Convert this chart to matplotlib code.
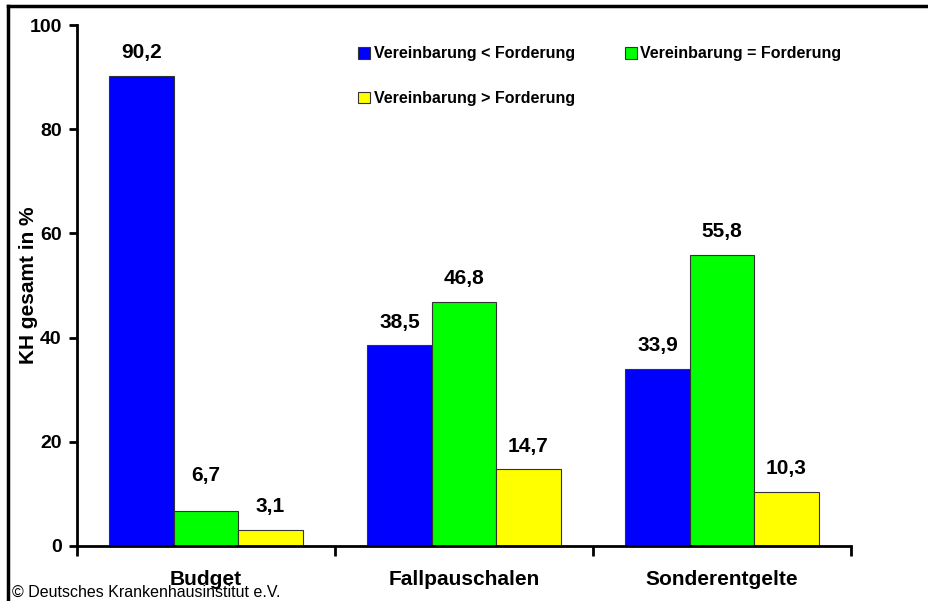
import matplotlib
matplotlib.use("Agg")
import matplotlib.pyplot as plt
from matplotlib.lines import Line2D
from matplotlib.patches import Patch
import numpy as np

categories = ["Budget", "Fallpauschalen", "Sonderentgelte"]
series_names = ["Vereinbarung < Forderung", "Vereinbarung = Forderung", "Vereinbarung > Forderung"]
kleiner = [90.2, 38.5, 33.9]
gleich = [6.7, 46.8, 55.8]
groesser = [3.1, 14.7, 10.3]
colors = ["#0000FF", "#00FF00", "#FFFF00"]
yticks = [0, 20, 40, 60, 80, 100]
# extra label lift (points) per (series, category) as in the original layout
label_nudge = {(1, 0): 9}

plt.rcParams['font.family'] = ['Liberation Sans', 'DejaVu Sans']

fig = plt.figure(figsize=(9.29, 6.01), dpi=100)
ax = fig.add_axes([77/929, 1-546/601, (851-77)/929, (546-25)/601])

x = np.arange(len(categories))
w = 0.25
series = [kleiner, gleich, groesser]
for i, (vals, col, name) in enumerate(zip(series, colors, series_names)):
    ax.bar(x + (i-1)*w, vals, w, color=col, edgecolor="#333333", linewidth=0.8, label=name, zorder=2)
    for j, (xi, v) in enumerate(zip(x + (i-1)*w, vals)):
        ax.annotate(f"{v:.1f}".replace(".", ","), (xi, v),
                    xytext=(0, 10 + label_nudge.get((i, j), 0)), textcoords="offset points",
                    ha="center", va="bottom", fontsize=15, fontweight="bold")

ax.set_xlim(-0.5, 2.5)
ax.set_ylim(0, 100)
ax.set_yticks(yticks)
ax.set_yticklabels([str(t) for t in yticks], fontsize=14, fontweight="bold")
ax.set_xticks([-0.5, 0.5, 1.5, 2.5])
ax.set_xticklabels([])
ax.set_xticks(x, minor=True)
ax.set_xticklabels(categories, minor=True, fontsize=15, fontweight="bold")
ax.tick_params(axis="x", which="minor", length=0, pad=17)
ax.tick_params(axis="x", which="major", length=7, width=2, direction="out")
ax.tick_params(axis="y", length=6, width=2, direction="out", pad=5)
for s in ["top", "right"]:
    ax.spines[s].set_visible(False)
for s in ["left", "bottom"]:
    ax.spines[s].set_linewidth(2)
ax.set_ylabel("KH gesamt in %", fontsize=15, fontweight="bold")
ax.yaxis.set_label_coords(-0.05, 0.5)

handles = [Patch(facecolor=c, edgecolor="#333333", linewidth=0.8) for c in colors]
order = [0, 2, 1]
fig.legend([handles[i] for i in order], [series_names[i] for i in order], ncol=2,
           loc="upper left", bbox_to_anchor=(352/929, 1-40/601), frameon=False,
           prop={"size": 11.5, "weight": "bold"}, handlelength=0.75, handleheight=0.75,
           handletextpad=0.2, labelspacing=1.85, columnspacing=3.15, borderaxespad=0)

fig.text(12/929, 1-592/601, "© Deutsches Krankenhausinstitut e.V.", fontsize=11.5, va="center", ha="left")

fig.add_artist(Line2D([8/929, 8/929], [0, 1-6/601], color="black", linewidth=2.5, transform=fig.transFigure))
fig.add_artist(Line2D([8/929, 1], [1-6/601, 1-6/601], color="black", linewidth=2.5, transform=fig.transFigure))

fig.savefig("out.png", dpi=100)
